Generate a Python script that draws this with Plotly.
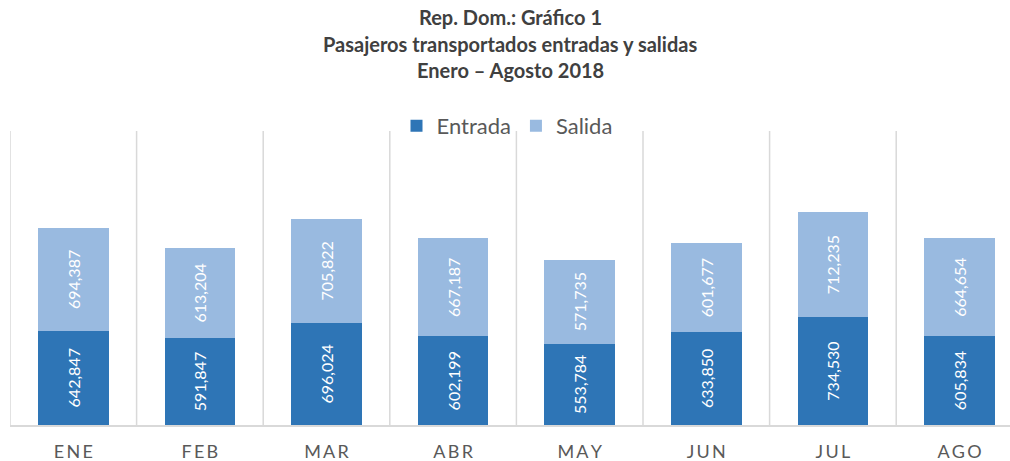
import plotly.graph_objects as go

meses = ["ENE", "FEB", "MAR", "ABR", "MAY", "JUN", "JUL", "AGO"]
entrada = [642847, 591847, 696024, 602199, 553784, 633850, 734530, 605834]
salida = [694387, 613204, 705822, 667187, 571735, 601677, 712235, 664654]

titulo = ["Rep. Dom.: Gráfico 1",
          "Pasajeros transportados entradas y salidas",
          "Enero – Agosto 2018"]

W, H = 1010, 461
PLOT_L, PLOT_T, PLOT_B = 10, 131, 425   # page pixels
ML = PLOT_L
MT = PLOT_T
MB = H - PLOT_B
MR = 0
PH = PLOT_B - PLOT_T
PW = W - ML - MR
cat_px = 126.6
x_max = -0.5 + PW / cat_px

FONT = "Lato"
C_ENT = "#2E75B6"
C_SAL = "#99BAE0"

fig = go.Figure()
for name, vals, col in [("Entrada", entrada, C_ENT), ("Salida", salida, C_SAL)]:
    fig.add_trace(go.Bar(
        name=name, x=list(range(len(meses))), y=vals,
        marker=dict(color=col, line=dict(width=0)),
        width=0.558,
        text=[f"{v:,}" for v in vals],
        textposition="inside", insidetextanchor="middle",
        textangle=-90,
        textfont=dict(family=FONT, size=16, color="white"),
        hoverinfo="skip",
    ))

shapes = []
for i in range(len(meses) + 1):
    shapes.append(dict(type="line", xref="x", yref="paper",
                       x0=i - 0.5, x1=i - 0.5, y0=0, y1=1,
                       line=dict(color="#D9D9D9", width=1.5), layer="below"))

annotations = []
for line, ypx in zip(titulo, [17, 44, 70]):
    annotations.append(dict(text=f"<b>{line}</b>", xref="paper", yref="paper",
                            x=(510 - PLOT_L) / PW, y=(PLOT_B - ypx) / PH,
                            xanchor="center", yanchor="middle", showarrow=False,
                            font=dict(family=FONT, size=20, color="#404040")))

spaced = ["\u2009".join(list(m)) for m in meses]

fig.update_layout(
    width=W, height=H,
    margin=dict(l=ML, r=MR, t=MT, b=MB),
    barmode="stack",
    plot_bgcolor="white", paper_bgcolor="white",
    showlegend=True,
    legend=dict(orientation="h", x=0.497, xanchor="center",
                y=(PLOT_B - 126) / PH, yanchor="middle",
                font=dict(family=FONT, size=22, color="#595959"),
                bgcolor="rgba(0,0,0,0)", traceorder="normal",
                itemwidth=30),
    xaxis=dict(range=[-0.5, x_max], tickmode="array",
               tickvals=list(range(len(meses))), ticktext=spaced,
               showgrid=False, zeroline=False,
               showline=True, linecolor="#D9D9D9", linewidth=1.5,
               ticks="", ticklabelstandoff=10,
               tickfont=dict(family=FONT, size=18, color="#595959")),
    yaxis=dict(range=[0, 2000000], visible=False, showgrid=False),
    shapes=shapes,
    annotations=annotations,
    font=dict(family=FONT),
)

fig.write_html(
    "out.html",
    config={"displayModeBar": False},
    post_script="document.body.style.margin='0';document.body.style.overflow='hidden';",
)
